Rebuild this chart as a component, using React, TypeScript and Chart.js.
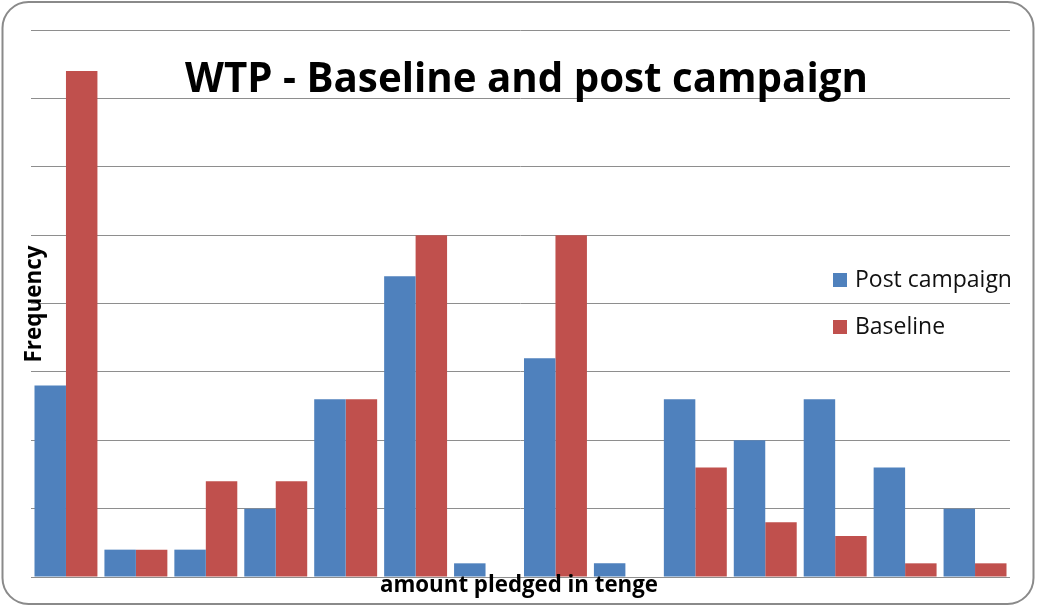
import React, { useEffect, useRef } from "react";
import { Chart, registerables } from "chart.js";

Chart.register(...registerables);

const categories = ["1", "2", "3", "4", "5", "6", "7", "8", "9", "10", "11", "12", "13", "14"];
const postCampaign = [14, 2, 2, 5, 13, 22, 1, 16, 1, 13, 10, 13, 8, 5];
const baseline = [37, 2, 7, 7, 13, 25, 0, 25, 0, 8, 4, 3, 1, 1];
const yMax = 40;
const yStep = 5;

const titleText = "WTP - Baseline and post campaign";
const xTitle = "amount pledged in tenge";
const yTitle = "Frequency";

const FAMILY = "'Open Sans', 'Noto Sans', sans-serif";

function fitFont(ctx: CanvasRenderingContext2D, text: string, weight: string, target: number) {
  ctx.font = `${weight} 100px ${FAMILY}`;
  const w = ctx.measureText(text).width;
  const size = (100 * target) / w;
  return `${weight} ${size.toFixed(2)}px ${FAMILY}`;
}

const overlay = {
  id: "overlay",
  beforeDraw(chart: any) {
    const ctx = chart.ctx as CanvasRenderingContext2D;
    ctx.save();
    ctx.fillStyle = "#ffffff";
    ctx.fillRect(0, 0, chart.width, chart.height);
    ctx.strokeStyle = "#8a8a8a";
    ctx.lineWidth = 2;
    ctx.beginPath();
    (ctx as any).roundRect(2.5, 2, 1031, 602, 26);
    ctx.stroke();
    ctx.restore();
  },
  afterDraw(chart: any) {
    const ctx = chart.ctx as CanvasRenderingContext2D;
    ctx.save();
    ctx.fillStyle = "#000000";
    ctx.textBaseline = "alphabetic";
    // title
    ctx.font = fitFont(ctx, titleText, "bold", 683);
    ctx.textAlign = "center";
    ctx.fillText(titleText, 526.5, 92);
    // x title
    ctx.font = fitFont(ctx, xTitle, "bold", 278);
    ctx.fillText(xTitle, 519, 592);
    // y title
    ctx.save();
    ctx.translate(41, 304);
    ctx.rotate(-Math.PI / 2);
    ctx.font = fitFont(ctx, yTitle, "bold", 117);
    ctx.fillText(yTitle, 0, 0);
    ctx.restore();
    // legend
    ctx.textAlign = "left";
    ctx.textBaseline = "middle";
    const items = chart.data.datasets;
    const legendFont = fitFont(ctx, items[0].label, "normal", 157);
    items.forEach((ds: any, i: number) => {
      const y = 280 + i * 47;
      ctx.fillStyle = ds.backgroundColor;
      ctx.fillRect(833, y - 7, 14, 14);
      ctx.fillStyle = "#111111";
      ctx.font = legendFont;
      ctx.fillText(ds.label, 855, y);
    });
    ctx.restore();
  },
};

export default function App() {
  const ref = useRef<HTMLCanvasElement | null>(null);
  useEffect(() => {
    document.body.style.margin = "0";
    if (!ref.current) return;
    const chart = new Chart(ref.current, {
      type: "bar",
      data: {
        labels: categories,
        datasets: [
          { label: "Post campaign", data: postCampaign, backgroundColor: "#4F81BD", borderWidth: 0 },
          { label: "Baseline", data: baseline, backgroundColor: "#C0504D", borderWidth: 0 },
        ],
      },
      options: {
        animation: false,
        responsive: true,
        maintainAspectRatio: false,
        layout: { padding: { left: 31, right: 28, top: 30, bottom: 31 } },
        plugins: { legend: { display: false }, title: { display: false }, tooltip: { enabled: false } },
        datasets: { bar: { categoryPercentage: 0.9, barPercentage: 1 } },
        scales: {
          x: {
            display: false,
            grid: { display: false },
          },
          y: {
            min: 0,
            max: yMax,
            ticks: { display: false, stepSize: yStep },
            border: { display: false },
            grid: { color: "#8e8e8e", lineWidth: 1, drawTicks: false },
          },
        },
      },
      plugins: [overlay],
    });
    return () => chart.destroy();
  }, []);
  return (
    <div style={{ width: 1038, height: 608, position: "relative" }}>
      <canvas ref={ref} />
    </div>
  );
}
